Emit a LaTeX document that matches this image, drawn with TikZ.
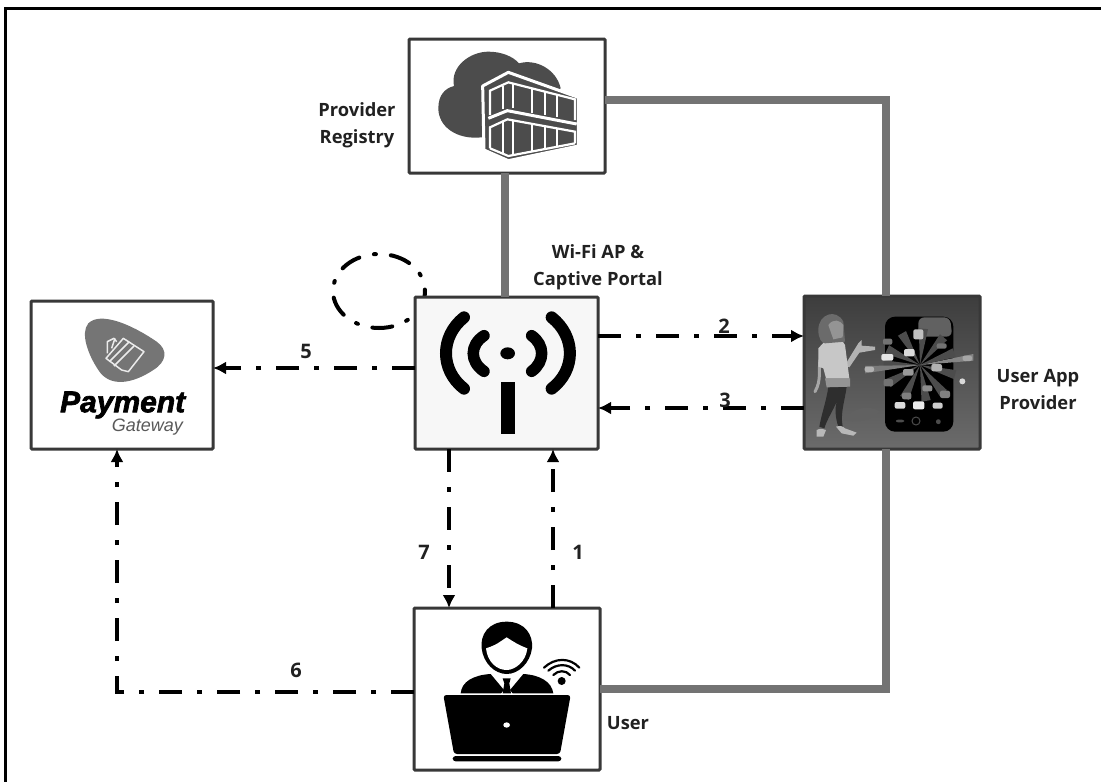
\documentclass[tikz,border=0pt]{standalone}
\usepackage{fontspec}
\setmainfont{Open Sans}
\newfontfamily\payfont[FakeBold=2.2]{Liberation Sans}
\newfontfamily\gatefont{Liberation Sans}
\usetikzlibrary{arrows.meta,calc}
\definecolor{edgegrey}{gray}{0.22}
\definecolor{linkgrey}{gray}{0.45}
\definecolor{icongrey}{gray}{0.30}
\definecolor{labelgrey}{gray}{0.13}
\tikzset{
  boxnode/.style={draw=edgegrey,line width=3pt,rounded corners=1pt,fill=white,inner sep=0pt,outer sep=0pt,anchor=north west},
  biglink/.style={draw=linkgrey,line width=7.5pt},
  flowlink/.style={draw=black,line width=4pt,dash pattern=on 23pt off 15pt on 5pt off 15pt},
  flowtip/.style={-{Latex[length=13pt,width=13pt]}},
  lbl/.style={font=\fontsize{18.3}{27}\selectfont\bfseries,text=labelgrey,align=center,inner sep=0pt},
  numlbl/.style={font=\fontsize{20}{24}\selectfont\bfseries,text=labelgrey,inner sep=0pt},
  zoomthree/.style={x=.33333pt,y=-.33333pt}
}
\begin{document}
\begin{tikzpicture}[x=1pt,y=-1pt]
\useasboundingbox (0,0) rectangle (1101,782);
\fill[white] (0,0) rectangle (1101,782);
\draw[black,line width=3pt] (5.5,782) -- (5.5,8.5) -- (1101,8.5);

% self loop (behind AP)
\node[draw=none,minimum width=0pt,inner sep=0pt] (loopc) at (379,291) {};
\draw[flowlink,line cap=round,dash pattern=on 20pt off 15pt on 2pt off 15pt] (loopc) ++(46,0) arc[start angle=0,end angle=360,x radius=46,y radius=37];

% boxes
\node[boxnode,minimum width=196pt,minimum height=134pt] (reg) at (409,39) {};
\node[boxnode,minimum width=183pt,minimum height=152pt,fill=white!97!black] (ap) at (415,297) {};
\node[boxnode,minimum width=182pt,minimum height=148pt] (pay) at (31,301) {};
\node[boxnode,minimum width=176pt,minimum height=153pt,top color=black!76,bottom color=black!58] (app) at (804,296) {};
\node[boxnode,minimum width=186pt,minimum height=162pt] (usr) at (414,608) {};

% grey links
\coordinate (c1) at (886,100);
\coordinate (c2) at (886,689);
\draw[biglink] (ap.north -| 505,0) -- (reg.south -| 505,0);
\draw[biglink] (reg.east |- c1) -- (c1) -- (app.north -| c1);
\draw[biglink] (app.south -| c2) -- (c2) -- (usr.east |- c2);

% flow links
\coordinate (l2) at (0,336);
\coordinate (l3) at (0,408);
\coordinate (l5) at (0,368);
\coordinate (l6) at (117,692);
\coordinate (l7) at (449,0);
\coordinate (l1) at (553,0);
\draw[flowlink,flowtip] (ap.east |- l2) -- (app.west |- l2);
\draw[flowlink,flowtip] (app.west |- l3) -- (ap.east |- l3);
\draw[flowlink,flowtip] (ap.west |- l5) -- (pay.east |- l5);
\draw[flowlink,flowtip] (ap.south -| l7) -- (usr.north -| l7);
\draw[flowlink,flowtip] (usr.north -| l1) -- (ap.south -| l1);
\draw[flowlink,flowtip] (usr.west |- l6) -- (l6) -- (pay.south -| l6);

% labels
\node[lbl] (t1) at (357,125) {Provider\\Registry};
\node[lbl] (t2) at (598,267) {Wi-Fi AP \&\\Captive Portal};
\node[lbl] (t3) at (1038,390) {User App\\Provider};
\node[lbl] (t4) at (628,723) {User};
\node[numlbl] (n2) at (724,326) {2};
\node[numlbl] (n3) at (725,400) {3};
\node[numlbl] (n5) at (306,351) {5};
\node[numlbl] (n7) at (424,552) {7};
\node[numlbl] (n1) at (578,552) {1};
\node[numlbl] (n6) at (296,670) {6};

% registry icon
\begin{scope}[shift={(300,20)},zoomthree]
\fill[icongrey] (545,352) .. controls (470,360) and (415,320) .. (415,265)
  .. controls (415,225) and (435,205) .. (462,198)
  .. controls (450,140) and (510,95) .. (565,95)
  .. controls (605,95) and (640,110) .. (657,130)
  .. controls (710,115) and (770,150) .. (782,205) -- (700,260) -- cycle;
\fill[icongrey,draw=white,line width=3pt,line join=round] (625,157) -- (548,198) -- (552,390) -- (625,422) -- (835,378) -- (835,232) -- cycle;
\begin{scope}[white,line width=2.2pt]
\draw (570,285) -- (570,212) -- (625,187) -- (825,238) -- (825,300);
\draw[line width=3pt] (565,295) -- (622,272) -- (830,312);
\draw (570,385) -- (570,322) -- (622,298) -- (825,335) -- (825,370);
\foreach \xa/\ya/\yb in {610/198/268,640/190/265,695/205/278,735/217/285,770/225/292}{\draw (\xa,\ya) -- (\xa,\yb);}
\foreach \xa/\ya/\yb in {610/305/400,640/300/402,695/310/395,735/318/388,770/324/380}{\draw (\xa,\ya) -- (\xa,\yb);}
\draw (570,385) -- (625,408) -- (825,370);
\end{scope}
\end{scope}

% AP icon
\begin{scope}[shift={(320,240)},zoomthree]
\fill[black] (563,340) ellipse[x radius=22,y radius=18];
\fill[black] (542,425) rectangle (585,583);
\begin{scope}[black,line width=12pt,line cap=round]
\draw (432,232) .. controls (360,290) and (360,390) .. (432,446);
\draw (695,232) .. controls (768,290) and (768,390) .. (695,446);
\draw[line width=11.5pt] (492,287) .. controls (449,315) and (449,365) .. (492,394);
\draw[line width=11.5pt] (635,287) .. controls (675,315) and (675,365) .. (635,394);
\end{scope}
\end{scope}

% payment icon
\begin{scope}[shift={(20,290)},zoomthree]
\fill[gray!92!black] (205,100) .. controls (240,65) and (330,100) .. (410,155)
  .. controls (445,180) and (440,215) .. (400,240)
  .. controls (340,280) and (270,295) .. (235,240)
  .. controls (205,195) and (180,130) .. (205,100) -- cycle;
\begin{scope}[white!92!black,line width=1.5pt,line join=round]
\draw (305,240) -- (258,205) -- (310,145) -- (372,185) -- (325,245) -- cycle;
\draw (268,215) -- (328,155) ;
\draw (282,228) -- (342,168);
\draw (262,190) -- (262,155) -- (282,145) -- (290,155);
\draw (275,175) -- (285,145);
\end{scope}
\node[inner sep=0pt,font=\fontsize{30}{30}\payfont\bfseries\itshape] (paytxt) at (308,345) {Payment};
\node[inner sep=0pt,text=black!65,font=\fontsize{18}{18}\gatefont\itshape] (gatetxt) at (382,412) {Gateway};
\end{scope}

% user icon
\begin{scope}[shift={(400,600)},zoomthree]
\fill[black] (320,65) .. controls (265,65) and (240,105) .. (245,145) .. controls (250,190) and (285,222) .. (320,222) .. controls (355,222) and (390,190) .. (396,145) .. controls (400,105) and (375,65) .. (320,65) -- cycle;
\fill[white] (258,145) .. controls (290,135) and (300,125) .. (320,112) .. controls (340,125) and (355,135) .. (382,145) .. controls (378,185) and (345,210) .. (320,210) .. controls (290,210) and (262,185) .. (258,145) -- cycle;
\fill[black] (182,280) .. controls (185,245) and (220,225) .. (272,222) -- (312,270) -- (303,280) -- cycle;
\fill[black] (460,280) .. controls (455,245) and (420,225) .. (370,222) -- (330,270) -- (338,280) -- cycle;
\fill[black] (308,235) -- (332,235) -- (328,250) -- (333,280) -- (308,280) -- (313,250) -- cycle;
\fill[black,rounded corners=3pt] (130,285) -- (512,285) -- (480,462) -- (162,462) -- cycle;
\fill[black,rounded corners=3pt] (158,468) rectangle (484,484);
\fill[white] (320,375) ellipse[x radius=10,y radius=8];
\fill[black] (485,243) circle[radius=12];
\begin{scope}[black,line width=2.2pt,line cap=round]
\draw (460,225) .. controls (475,210) and (497,210) .. (510,225);
\draw (445,212) .. controls (470,190) and (505,190) .. (525,212);
\draw (432,203) .. controls (465,172) and (510,172) .. (538,203);
\end{scope}
\end{scope}

% app picture
\begin{scope}[shift={(790,280)},zoomthree]
% shadow
\fill[black!62] (160,420) .. controls (190,380) and (240,375) .. (270,395) .. controls (240,425) and (190,430) .. (160,420) -- cycle;
% phone
\fill[black,rounded corners=10pt] (285,110) rectangle (490,455);
\fill[black!62,rounded corners=6pt] (385,112) -- (480,112) -- (487,170) -- (385,170) -- cycle;
% rays
\foreach \a in {15,50,80,115,150,180,205,240,275,310,340}{
  \fill[white!30!black] (390,255) -- ++(\a-7:110) -- ++(\a+90:28) -- cycle;}
\fill[white!52!black] (390,255) -- (550,222) -- (550,242) -- cycle;
\fill[white!48!black] (390,255) -- (225,258) -- (225,280) -- cycle;
% app icons
\foreach \px/\py/\pw/\ph/\pc in {385/163/30/30/75,293/185/28/18/45,358/218/32/22/85,292/232/36/20/90,455/198/30/16/45,355/277/32/20/60,440/263/32/22/70,238/268/28/16/70,532/235/28/16/65,295/308/28/22/45,412/325/30/18/55,350/348/28/20/50,465/343/30/22/50,330/376/32/20/85,386/376/34/24/92,443/377/30/18/80,330/423/24/8/30,445/425/14/14/30}{
  \fill[white!\pc!black,rounded corners=2pt] (\px-\pw/2,\py-\ph/2) rectangle ++(\pw,\ph);}
\fill[white!85!black] (517,304) circle[radius=9];
\draw[white!30!black,line width=1pt] (378,423) circle[radius=12];
% girl: legs
\fill[black!82] (115,320) -- (170,320) .. controls (165,360) and (150,400) .. (158,440) -- (145,440) .. controls (135,410) and (135,385) .. (140,365) .. controls (130,390) and (110,420) .. (103,445) -- (88,440) .. controls (95,400) and (110,360) .. (115,320) -- cycle;
% shoes
\fill[white!72!black] (80,450) .. controls (90,445) and (100,445) .. (108,450) -- (100,470) -- (80,470) -- cycle;
\fill[white!72!black] (138,440) .. controls (150,435) and (160,440) .. (165,445) -- (200,458) -- (190,467) -- (155,460) -- cycle;
% back arm
\draw[white!65!black,line width=3pt,line cap=round] (90,240) .. controls (85,270) and (95,300) .. (75,335);
% raised arm
\fill[white!70!black] (165,255) -- (205,190) -- (215,180) -- (215,197) -- (255,200) -- (255,210) -- (208,218) -- (178,262) -- cycle;
% skirt
\fill[white!58!black] (105,295) -- (180,295) -- (180,320) -- (110,322) -- cycle;
% blouse
\fill[white!78!black] (108,180) .. controls (130,170) and (155,175) .. (165,195) -- (178,295) -- (108,295) -- (100,265) -- (85,260) -- (85,205) -- cycle;
% hair + face
\fill[white!42!black] (85,150) .. controls (85,100) and (140,85) .. (160,125) -- (165,185) -- (105,190) .. controls (95,190) and (85,175) .. (85,150) -- cycle;
\fill[white!58!black] (115,135) .. controls (130,115) and (150,120) .. (160,135) -- (158,172) -- (130,178) -- cycle;
\end{scope}
\end{tikzpicture}
\end{document}
